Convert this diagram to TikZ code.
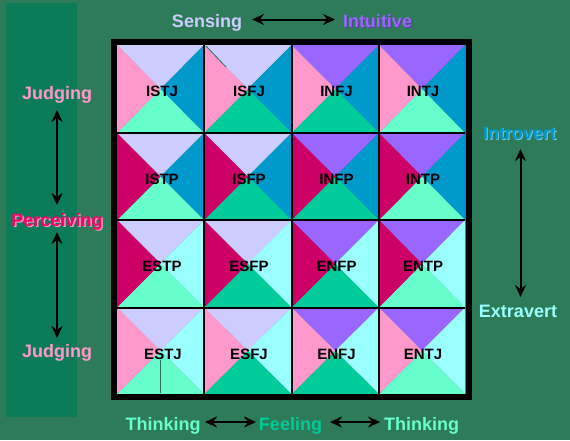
\documentclass[tikz,border=0pt]{standalone}
\usepackage{fontspec}
\setmainfont{Liberation Sans}
\usetikzlibrary{arrows.meta}
\definecolor{bgc}{HTML}{2D7B58}
\definecolor{panelc}{HTML}{0C7B58}
\definecolor{colS}{HTML}{CCCCFF}
\definecolor{colN}{HTML}{9966FF}
\definecolor{colJ}{HTML}{FF99CC}
\definecolor{colP}{HTML}{CC0066}
\definecolor{colI}{HTML}{0099CC}
\definecolor{colE}{HTML}{99FFFF}
\definecolor{colT}{HTML}{66FFCC}
\definecolor{colF}{HTML}{00CC99}
\definecolor{perc}{HTML}{FF0066}
\definecolor{artc}{HTML}{2F6A5E}
\tikzset{
  lab/.style={font=\fontsize{18}{18}\selectfont\bfseries, anchor=base, inner sep=0pt},
  celltxt/.style={font=\fontsize{15}{15}\selectfont\bfseries, anchor=base, inner sep=0pt, text=black},
  dblarrow/.style={line width=2pt, black, {Stealth[length=12pt,width=11pt,inset=4pt]}-{Stealth[length=12pt,width=11pt,inset=4pt]}},
  gridline/.style={line width=2pt, black},
  frame/.style={line width=6pt, black}
}
\begin{document}
\begin{tikzpicture}[x=1pt,y=-1pt]
\useasboundingbox (0,0) rectangle (570,440);
\fill[bgc] (0,0) rectangle (570,440);
\fill[panelc] (6,3) rectangle (77,417);

% cells
\foreach \cl/\cr/\ctop/\cbot in {
  117/204/colS/colT, 204/291.5/colS/colF, 291.5/379/colN/colF, 379/465/colN/colT}{
  \foreach \rt/\rb/\rlef/\rrig in {
    45/133/colJ/colI, 133/220/colP/colI, 220/307.5/colP/colE, 307.5/394/colJ/colE}{
    \coordinate (m) at ({(\cl+\cr)/2},{(\rt+\rb)/2});
    \fill[\ctop] (\cl,\rt) -- (\cr,\rt) -- (m) -- cycle;
    \fill[\rrig] (\cr,\rt) -- (\cr,\rb) -- (m) -- cycle;
    \fill[\cbot] (\cr,\rb) -- (\cl,\rb) -- (m) -- cycle;
    \fill[\rlef] (\cl,\rb) -- (\cl,\rt) -- (m) -- cycle;
  }
}
% small artifacts
\draw[artc, line width=0.8pt] (160.3,360) -- (160.3,393);
\draw[artc, line width=0.8pt] (206,46) -- (226,67);

% grid
\foreach \gx in {204,291.5,379} \draw[gridline] (\gx,45) -- (\gx,394);
\foreach \gy in {133,220,307.5} \draw[gridline] (117,\gy) -- (465,\gy);
\draw[frame] (114,42) rectangle (468.5,396.5);

% cell labels
\node[celltxt] (istj) at (162,96.5) {ISTJ};
\node[celltxt] (isfj) at (249,96.5) {ISFJ};
\node[celltxt] (infj) at (336.5,96.5) {INFJ};
\node[celltxt] (intj) at (423,96.5) {INTJ};
\node[celltxt] (istp) at (162,184) {ISTP};
\node[celltxt] (isfp) at (249,184) {ISFP};
\node[celltxt] (infp) at (336.5,184) {INFP};
\node[celltxt] (intp) at (423,184) {INTP};
\node[celltxt] (estp) at (162,271.5) {ESTP};
\node[celltxt] (esfp) at (249,271.5) {ESFP};
\node[celltxt] (enfp) at (336.5,271.5) {ENFP};
\node[celltxt] (entp) at (423,271.5) {ENTP};
\node[celltxt] (estj) at (163,359) {ESTJ};
\node[celltxt] (esfj) at (249,359) {ESFJ};
\node[celltxt] (enfj) at (336.5,359) {ENFJ};
\node[celltxt] (entj) at (423,359) {ENTJ};

% top labels
\node[lab, text=colS] (sensing) at (207,27) {Sensing};
\node[lab, text=colN!60!black] (intuitiveS) at (378.5,28) {Intuitive};
\node[lab, text=colN] (intuitive) at (377.5,27) {Intuitive};
\coordinate (tA) at (252,19.5);
\coordinate (tB) at (335,19.5);
\draw[dblarrow] (tA) -- (tB);

% left labels
\node[lab, text=colJ] (judg1) at (57,99) {Judging};
\node[lab, text=colJ] (percS) at (58.5,227.5) {Perceiving};
\node[lab, text=perc] (perc) at (57,226) {Perceiving};
\node[lab, text=colJ] (judg2) at (57,357) {Judging};
\coordinate (lA) at (57,110);
\coordinate (lB) at (57,205);
\coordinate (lC) at (57,232);
\coordinate (lD) at (57,338);
\draw[dblarrow] (lA) -- (lB);
\draw[dblarrow] (lC) -- (lD);

% right labels
\node[lab, text=colI!55!white] (introS) at (520.5,140) {Introvert};
\node[lab, text=colI] (intro) at (519.5,139) {Introvert};
\node[lab, text=colE] (extra) at (518,317) {Extravert};
\coordinate (rA) at (520.5,149);
\coordinate (rB) at (520.5,297);
\draw[dblarrow] (rA) -- (rB);

% bottom labels
\node[lab, text=colT] (think1) at (163,430) {Thinking};
\node[lab, text=colF] (feel) at (290.5,430) {Feeling};
\node[lab, text=colT] (think2) at (421.5,430) {Thinking};
\coordinate (bA) at (205,422);
\coordinate (bB) at (256,422);
\coordinate (bC) at (330,422);
\coordinate (bD) at (380,422);
\draw[dblarrow] (bA) -- (bB);
\draw[dblarrow] (bC) -- (bD);
\end{tikzpicture}
\end{document}
